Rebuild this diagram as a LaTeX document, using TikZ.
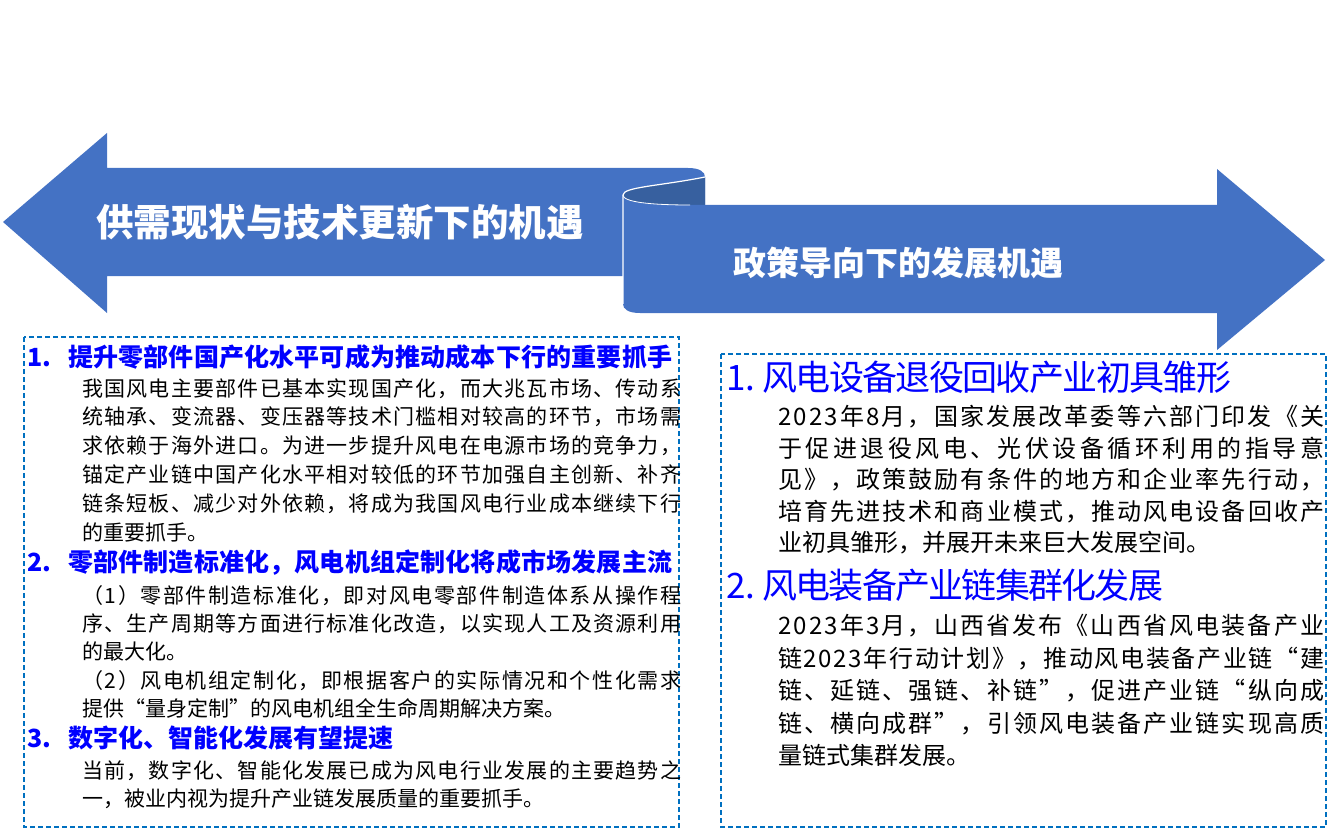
\documentclass[tikz,border=0pt]{standalone}
\usepackage{fontspec}
\usepackage{tikz}
\newfontfamily\cjk{Noto Sans CJK SC}
\definecolor{arrowblue}{HTML}{4472C4}
\definecolor{curldark}{HTML}{37609F}
\definecolor{boxblue}{HTML}{0070C0}
\definecolor{headblue}{HTML}{0000FF}
% justified line: glue between the characters
\def\spreadtext#1{\spreadfirst#1\spreadend}
\def\spreadfirst#1{#1\spreadnext}
\def\spreadnext#1{\ifx#1\spreadend\else\hskip 0pt plus 1fil minus 3pt\relax#1\expandafter\spreadnext\fi}
\newcommand\jline[2]{\ifdim#1pt>0pt\hbox to #1pt{\expandafter\spreadtext\expandafter{#2}}\else#2\fi}

\begin{document}
\begin{tikzpicture}[x=1pt,y=-1pt,
    titletxt/.style={text=white,inner sep=0pt},
    dashbox/.style={draw=boxblue,line width=2pt,dash pattern=on 5pt off 3pt},
    headL/.style={anchor=base west,inner sep=0pt,text=headblue,font=\cjk\bfseries\fontsize{25}{30}\selectfont},
    headR/.style={anchor=base west,inner sep=0pt,text=headblue,font=\cjk\fontsize{35}{40}\selectfont},
    bodyL/.style={anchor=base west,inner sep=0pt,font=\cjk\fontsize{21}{26}\selectfont},
    bodyR/.style={anchor=base west,inner sep=0pt,font=\cjk\fontsize{24}{28}\selectfont}]
    \useasboundingbox (0,0) rectangle (1341,829);

    % left arrow
    \fill[arrowblue] (3,222) -- (107,133) -- (107,168) -- (688,168)
        .. controls (700,168) and (705,172) .. (705,177) -- (705,276)
        -- (107,276) -- (107,313) -- cycle;
    % inside of the curl
    \fill[curldark] (705,177) .. controls (660,186) and (623,187) .. (623,195)
        .. controls (623,202) and (650,205) .. (690,205) -- (705,205) -- cycle;
    % right arrow
    \fill[arrowblue] (623,195) .. controls (623,202) and (650,205) .. (690,205)
        -- (1217,205) -- (1217,169) -- (1325,260) -- (1217,350) -- (1217,313)
        -- (640,313) .. controls (628,313) and (623,309) .. (623,304) -- cycle;
    \draw[white,line width=1.2pt] (705,177) .. controls (660,186) and (623,187) .. (623,195) -- (623,304);
    \draw[white,line width=0.8pt] (623,195) .. controls (623,202) and (650,205) .. (690,205);

    \node[titletxt,font=\cjk\bfseries\fontsize{37.5}{40}\selectfont] (titleL) at (340,222) {供需现状与技术更新下的机遇};
    \node[titletxt,font=\cjk\bfseries\fontsize{33}{36}\selectfont] (titleR) at (898,263) {政策导向下的发展机遇};

    % dashed boxes
    \draw[dashbox] (24,337) rectangle (679,827);
    \draw[dashbox] (721,354) rectangle (1326,827);

    % left box
    \node[headL] (hL1) at (27,366.5) {\makebox[41pt][l]{1.}\jline{604}{提升零部件国产化水平可成为推动成本下行的重要抓手}};
    \foreach \w/\txt [count=\i from 0] in {599/我国风电主要部件已基本实现国产化，而大兆瓦市场、传动系,
        599/统轴承、变流器、变压器等技术门槛相对较高的环节，市场需,
        599/求依赖于海外进口。为进一步提升风电在电源市场的竞争力，,
        599/锚定产业链中国产化水平相对较低的环节加强自主创新、补齐,
        599/链条短板、减少对外依赖，将成为我国风电行业成本继续下行,
        0/的重要抓手。}
        \node[bodyL] (bL1-\i) at (82,{396+\i*28.8}) {\jline{\w}{\txt}};

    \node[headL] (hL2) at (27,571.5) {\makebox[41pt][l]{2.}\jline{604}{零部件制造标准化，风电机组定制化将成市场发展主流}};
    \foreach \w/\txt [count=\i from 0] in {599/（1）零部件制造标准化，即对风电零部件制造体系从操作程,
        599/序、生产周期等方面进行标准化改造，以实现人工及资源利用,
        0/的最大化。,
        599/（2）风电机组定制化，即根据客户的实际情况和个性化需求,
        0/提供“量身定制”的风电机组全生命周期解决方案。}
        \node[bodyL] (bL2-\i) at (82,{603+\i*28.4}) {\jline{\w}{\txt}};

    \node[headL] (hL3) at (27,747.5) {\makebox[41pt][l]{3.}数字化、智能化发展有望提速};
    \foreach \w/\txt [count=\i from 0] in {599/当前，数字化、智能化发展已成为风电行业发展的主要趋势之,
        0/一，被业内视为提升产业链发展质量的重要抓手。}
        \node[bodyL] (bL3-\i) at (82,{778+\i*28.5}) {\jline{\w}{\txt}};

    % right box
    \node[headR] (hR1) at (726,390) {\makebox[36pt][l]{1.}\jline{469}{风电设备退役回收产业初具雏形}};
    \foreach \w/\txt [count=\i from 0] in {546/2023年8月，国家发展改革委等六部门印发《关,
        546/于促进退役风电、光伏设备循环利用的指导意,
        546/见》，政策鼓励有条件的地方和企业率先行动，,
        546/培育先进技术和商业模式，推动风电设备回收产,
        0/业初具雏形，并展开未来巨大发展空间。}
        \node[bodyR] (bR1-\i) at (778,{425.5+\i*31.5}) {\jline{\w}{\txt}};

    \node[headR] (hR2) at (726,598) {\makebox[36pt][l]{2.}\jline{401}{风电装备产业链集群化发展}};
    \foreach \w/\txt [count=\i from 0] in {546/2023年3月，山西省发布《山西省风电装备产业,
        546/链2023年行动计划》，推动风电装备产业链“建,
        546/链、延链、强链、补链”，促进产业链“纵向成,
        546/链、横向成群”，引领风电装备产业链实现高质,
        0/量链式集群发展。}
        \node[bodyR] (bR2-\i) at (778,{634.5+\i*32.5}) {\jline{\w}{\txt}};
\end{tikzpicture}
\end{document}
